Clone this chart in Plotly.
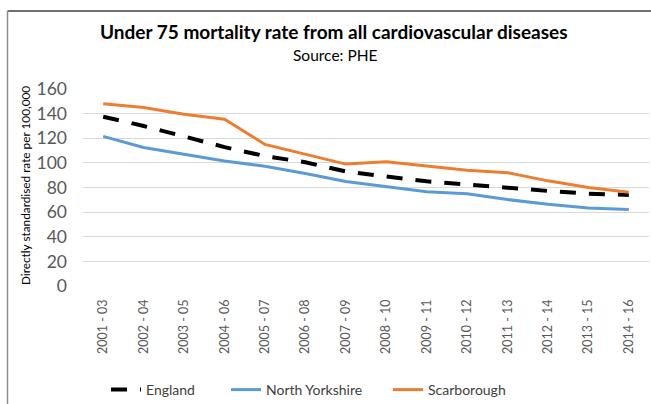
import plotly.graph_objects as go

categories = ["2001 - 03", "2002 - 04", "2003 - 05", "2004 - 06", "2005 - 07", "2006 - 08",
              "2007 - 09", "2008 - 10", "2009 - 11", "2010 - 12", "2011 - 13", "2012 - 14",
              "2013 - 15", "2014 - 16"]
england = [137.5, 130, 121.5, 112.8, 105.5, 100.5, 93, 88.6, 85, 82.4, 79.5, 77.2, 75, 74]
north_yorkshire = [121.5, 112.5, 107, 101.6, 97.2, 91.4, 84.8, 81, 76.6, 75, 70.2, 66.4, 63.4, 62.2]
scarborough = [148, 145, 139.5, 135.5, 115, 107, 99, 101, 97.3, 94, 92, 85.4, 80, 76.2]
y_ticks = [0, 20, 40, 60, 80, 100, 120, 140, 160]

FONT = "Lato"
L, R, T, B = 83, 2, 89, 118
W, H = 651, 404
pw = W - L - R
ph = H - T - B

def px_x(p):
    return (p - L) / pw

def px_y(p):
    return (H - B - p) / ph

fig = go.Figure()
fig.add_trace(go.Scatter(x=categories, y=england, name="England", mode="lines", legend="legend",
                         line=dict(color="#000000", width=4, dash="16px,13px")))
fig.add_trace(go.Scatter(x=categories, y=north_yorkshire, name="North Yorkshire", mode="lines",
                         legend="legend2", line=dict(color="#5B9BD5", width=3)))
fig.add_trace(go.Scatter(x=categories, y=scarborough, name="Scarborough", mode="lines",
                         legend="legend3", line=dict(color="#ED7D31", width=3)))

def leg(text_x):
    return dict(orientation="h", x=(text_x - 42) / W, xref="container", xanchor="left",
                y=(H - 390) / H, yref="container", yanchor="middle",
                font=dict(size=14, color="#404040", family=FONT), itemwidth=30,
                bgcolor="rgba(0,0,0,0)")

fig.update_layout(
    width=W, height=H,
    margin=dict(l=L, r=R, t=T, b=B, pad=0, autoexpand=False),
    paper_bgcolor="white", plot_bgcolor="white",
    font=dict(family=FONT, color="#595959"),
    showlegend=True,
    legend=leg(148), legend2=leg(268), legend3=leg(430),
    xaxis=dict(type="category", range=[-0.5, 13.5], showgrid=False, zeroline=False,
               showline=False, tickangle=-90, tickfont=dict(size=12.5, color="#595959", family=FONT),
               ticks="", automargin=False, ticklabelstandoff=10, fixedrange=True),
    yaxis=dict(range=[0, 160], tickvals=y_ticks, showgrid=True, gridcolor="#D9D9D9", gridwidth=1,
               zeroline=False, showline=False, ticks="", tickfont=dict(size=17.5, color="#595959", family=FONT),
               ticklabelstandoff=15, automargin=False, fixedrange=True),
    shapes=[
        dict(type="line", xref="paper", yref="paper", x0=px_x(7.5), x1=px_x(660),
             y0=px_y(11), y1=px_y(11), line=dict(color="#404040", width=1.5), layer="below"),
        dict(type="line", xref="paper", yref="paper", x0=px_x(7.5), x1=px_x(7.5),
             y0=px_y(11), y1=px_y(420), line=dict(color="#8C8C8C", width=1.5), layer="below"),
    ],
    annotations=[
        dict(text="<b>Under 75 mortality rate from all cardiovascular diseases</b>", xref="paper", yref="paper",
             x=px_x(334), y=px_y(31), xanchor="center", yanchor="middle", showarrow=False,
             font=dict(size=19, color="#000000", family=FONT)),
        dict(text="Source: PHE", xref="paper", yref="paper",
             x=px_x(335), y=px_y(55), xanchor="center", yanchor="middle", showarrow=False,
             font=dict(size=15.5, color="#000000", family=FONT)),
        dict(text="Directly standardised rate per 100,000", xref="paper", yref="paper",
             x=px_x(25), y=px_y(186), xanchor="center", yanchor="middle", showarrow=False,
             textangle=-90, font=dict(size=11.8, color="#000000", family=FONT)),
    ],
)

fig.write_html("out.html", config={"displayModeBar": False},
               post_script="document.body.style.margin='0';document.body.style.overflow='hidden';")
